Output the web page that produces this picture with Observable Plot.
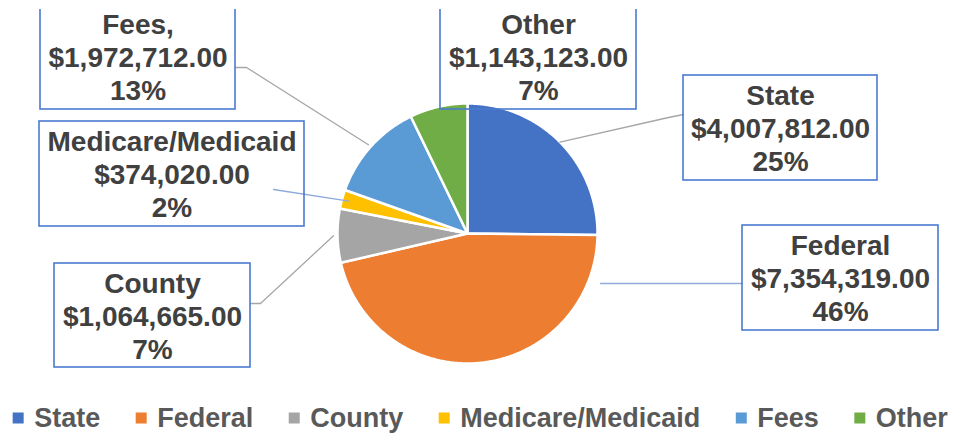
<!DOCTYPE html>
<html><head><meta charset="utf-8">
<script src="https://cdn.jsdelivr.net/npm/d3@7"></script>
<script src="https://cdn.jsdelivr.net/npm/@observablehq/plot@0.6"></script>
<style>body{margin:0;background:#fff}</style>
</head><body><div id="chart"></div>
<script>
// ---- data ----
const categories = ["State", "Federal", "County", "Medicare/Medicaid", "Fees", "Other"];
const amounts = [4007812, 7354319, 1064665, 374020, 1972712, 1143123];
const labelNames = ["State", "Federal", "County", "Medicare/Medicaid", "Fees,", "Other"];
const percentLabels = ["25%", "46%", "7%", "2%", "13%", "7%"];
const colors = ["#4472C4", "#ED7D31", "#A5A5A5", "#FFC000", "#5B9BD5", "#70AD47"];

// ---- layout ----
const W = 954, H = 433, cx = 467, cy = 233, R = 130;
const FONT = "'Liberation Sans', Arial, sans-serif";
const boxes = [ // [x1, y1, x2, y2] per category
  [683, 75, 877, 180],
  [742, 225, 938, 330],
  [54, 263, 250, 367],
  [39, 121, 304, 226],
  [40, 4, 235, 109],
  [440, 4, 636, 109]
];
// leader: start point + optional elbow; end at slice mid-angle on the rim (or fixed)
const leaderSpec = [
  {start: [683, 114], elbow: [668, 117], stroke: "#A6A6A6"},
  {start: [742, 283], end: [600, 283], stroke: "#8FAADC"},
  {start: [250, 303], elbow: [260, 303], stroke: "#A6A6A6", r: 134},
  {start: [273, 189], stroke: "#8FAADC", r: 123},
  {start: [235, 67], elbow: [246, 67], stroke: "#A6A6A6", r: 133},
  null
];

const total = d3.sum(amounts);
const fmt = v => "$" + d3.format(",.2f")(v);

// slice polygons
const slicePts = [];
const midAngles = [];
let acc = 0;
categories.forEach((c, i) => {
  const a0 = acc / total * 2 * Math.PI;
  acc += amounts[i];
  const a1 = acc / total * 2 * Math.PI;
  midAngles.push((a0 + a1) / 2);
  slicePts.push({cat: c, x: cx, y: cy});
  const n = Math.max(2, Math.ceil((a1 - a0) / (Math.PI / 360)));
  for (let k = 0; k <= n; k++) {
    const a = a0 + (a1 - a0) * k / n;
    slicePts.push({cat: c, x: cx + R * Math.sin(a), y: cy - R * Math.cos(a)});
  }
});

// leader lines
const leaderPts = [];
leaderSpec.forEach((s, i) => {
  if (!s) return;
  const pts = [s.start];
  if (s.elbow) pts.push(s.elbow);
  if (s.end) pts.push(s.end);
  else {
    const r = s.r || R;
    pts.push([cx + r * Math.sin(midAngles[i]), cy - r * Math.cos(midAngles[i])]);
  }
  pts.forEach(p => leaderPts.push({id: i, x: p[0], y: p[1], stroke: s.stroke}));
});

// labels
const labels = categories.map((c, i) => ({
  cat: c,
  x1: boxes[i][0], y1: boxes[i][1], x2: boxes[i][2], y2: boxes[i][3],
  tx: (boxes[i][0] + boxes[i][2]) / 2,
  ty: boxes[i][1] + 52,
  text: `${labelNames[i]}\n${fmt(amounts[i])}\n${percentLabels[i]}`
}));

// legend layout from measured text widths
const LFS = 27;
const ctx = document.createElement("canvas").getContext("2d");
ctx.font = `bold ${LFS}px 'Liberation Sans', Arial, sans-serif`;
const mW = 11, mGap = 10, itemGap = 36;
const widths = categories.map(c => ctx.measureText(c).width);
const totalW = d3.sum(widths) + categories.length * (mW + mGap) + (categories.length - 1) * itemGap;
let lx = W / 2 + 3 - totalW / 2;
const legend = categories.map((c, i) => {
  const item = {cat: c, mx1: lx, mx2: lx + mW, tx: lx + mW + mGap};
  lx += mW + mGap + widths[i] + itemGap;
  return item;
});
const LY = 418;

const chart = Plot.plot({
  width: W, height: H,
  margin: 0,
  style: {fontFamily: FONT, background: "#fff"},
  x: {domain: [0, W], range: [0, W], axis: null},
  y: {domain: [0, H], range: [0, H], axis: null},
  color: {domain: categories, range: colors},
  marks: [
    Plot.line(slicePts, {x: "x", y: "y", z: "cat", fill: "cat", stroke: "white", strokeWidth: 2.5, curve: "linear-closed", strokeLinejoin: "round"}),
    Plot.line(leaderPts, {x: "x", y: "y", z: "id", stroke: "stroke", strokeWidth: 1.3}),
    Plot.rect(labels, {x1: "x1", x2: "x2", y1: "y1", y2: "y2", fill: "none", stroke: "#4A7BD0", strokeWidth: 1.6}),
    Plot.text(labels, {x: "tx", y: "ty", text: "text", fontSize: 28, fontWeight: "bold", fill: "#404040", lineHeight: 33 / 28, textAnchor: "middle", lineAnchor: "middle"}),
    Plot.rect([0], {x1: 0, x2: W, y1: 0, y2: 9, fill: "white"}),
    Plot.rect(legend, {x1: "mx1", x2: "mx2", y1: LY - 5.5, y2: LY + 5.5, fill: "cat"}),
    Plot.text(legend, {x: "tx", y: LY, text: "cat", fontSize: LFS, fontWeight: "bold", fill: "#595959", textAnchor: "start", lineAnchor: "middle"})
  ]
});
document.getElementById("chart").appendChild(chart);
</script>
</body></html>
